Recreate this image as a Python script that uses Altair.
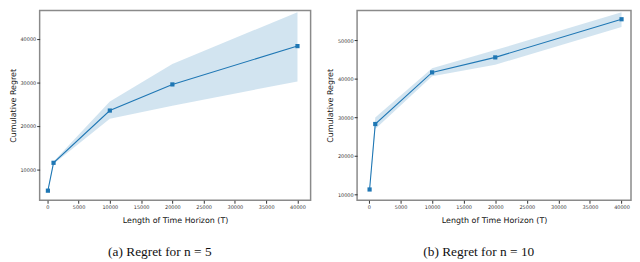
import altair as alt
import pandas as pd

T = [100, 1000, 10000, 20000, 40000]
x_ticks = [0, 5000, 10000, 15000, 20000, 25000, 30000, 35000, 40000]

mean_n5 = [5100, 11500, 23500, 29500, 38300]
lo_n5 = [4900, 11200, 21600, 24600, 30200]
hi_n5 = [5300, 11800, 25600, 34200, 46100]

mean_n10 = [11300, 28300, 41700, 45600, 55500]
lo_n10 = [10900, 27000, 40700, 43700, 53500]
hi_n10 = [11700, 30000, 42800, 47500, 57300]

y_ticks_n5 = [10000, 20000, 30000, 40000]
y_ticks_n10 = [10000, 20000, 30000, 40000, 50000]

BLUE = "#1f77b4"


def panel(mean, lo, hi, xdom, ydom, yticks, caption, w):
    df = pd.DataFrame({"T": T, "mean": mean, "lo": lo, "hi": hi})
    xenc = alt.X(
        "T:Q",
        scale=alt.Scale(domain=xdom, nice=False, zero=False),
        axis=alt.Axis(values=x_ticks, title="Length of Time Horizon (T)", format="d"),
    )
    yscale = alt.Scale(domain=ydom, nice=False, zero=False)
    base = alt.Chart(df).encode(x=xenc)
    band = base.mark_area(color=BLUE, opacity=0.2).encode(
        y=alt.Y("lo:Q", scale=yscale,
                axis=alt.Axis(values=yticks, title="Cumulative Regret", format="d")),
        y2="hi:Q",
    )
    line = base.mark_line(color=BLUE, strokeWidth=1.1).encode(y=alt.Y("mean:Q", scale=yscale))
    pts = base.mark_square(color=BLUE, size=18, opacity=1).encode(y=alt.Y("mean:Q", scale=yscale))
    return alt.layer(band, line, pts).properties(
        width=w,
        height=192,
        title=alt.TitleParams(
            caption, orient="bottom", frame="bounds", anchor="middle",
            font="Liberation Serif", fontSize=13.5, fontWeight="normal",
            color="#111", offset=21,
        ),
    )


left = panel(mean_n5, lo_n5, hi_n5, [-1220, 42100], [2900, 46500], y_ticks_n5,
             "(a) Regret for n = 5", 274)
right = panel(mean_n10, lo_n10, hi_n10, [-1880, 41500], [8500, 57800], y_ticks_n10,
              "(b) Regret for n = 10", 277)

chart = alt.hconcat(left, right, spacing=14).configure_view(
    stroke="#8a8a8a", strokeWidth=1.5
).configure_axis(
    grid=False, domain=False,
    labelFontSize=5, labelColor="#333", labelFont="DejaVu Sans", labelPadding=1,
    tickSize=3, tickColor="#333",
    titleFont="DejaVu Sans", titleFontSize=8, titleFontWeight="normal", titleColor="#111",
).configure_axisY(titlePadding=3).configure_axisX(titlePadding=7).properties(padding=0)

chart.save("out.html", embed_options={"renderer": "svg", "actions": False})
